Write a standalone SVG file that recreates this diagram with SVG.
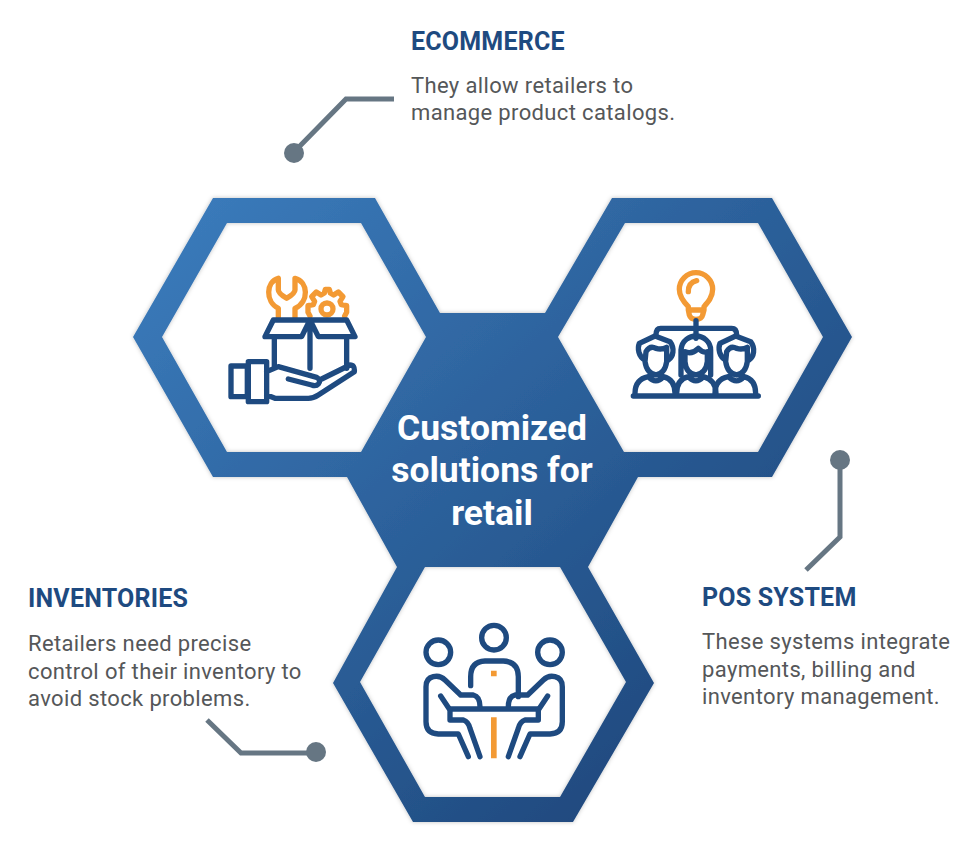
<svg xmlns="http://www.w3.org/2000/svg" width="966" height="854" viewBox="0 0 966 854">
<style>
text{font-family:Roboto,"Liberation Sans",sans-serif}
.h{font-size:25px;font-weight:700;fill:#1e4a80;letter-spacing:.2px}
.b{font-size:22px;fill:#555759;letter-spacing:.36px}
.c{font-size:35.5px;font-weight:700;fill:#fff;text-anchor:middle}
.n,.o{fill:none;stroke-width:16;stroke-linecap:round;stroke-linejoin:round}
.n{stroke:#1e4a80}.o{stroke:#f39a34}
.l{fill:none;stroke:#667683;stroke-width:5}
.d{fill:#667683}
</style>
<defs>
<linearGradient id="g" gradientUnits="userSpaceOnUse" x1="190" y1="210" x2="720" y2="800">
<stop offset="0" stop-color="#3a7aba"/><stop offset="1" stop-color="#1d4579"/>
</linearGradient>
<filter id="s" x="-5%" y="-5%" width="110%" height="110%"><feDropShadow dx="0" dy="0" stdDeviation="2" flood-color="#000" flood-opacity=".25"/></filter>
</defs>
<rect width="966" height="854" fill="#fff"/>
<g id="hexagons">
<path filter="url(#s)" fill="url(#g)" fill-rule="evenodd" d="M213,198H375L440,313H545L612,198H772L852,337L772,477H638L588,567L654,683L573,822H413L333,683L397,567L347,477H213L133,337Z M227,223L162,337L227,452H361L426,337L361,223Z M625,223L558,337L624,452H758L823,337L758,223Z M425,567L360,682L425,797H560L626,682L560,567Z"/>
</g>
<g id="connectors">
<path class="l" d="M394,99H346L294,152"/><circle class="d" cx="294" cy="153" r="10"/>
<path class="l" d="M840,460V537L806,570"/><circle class="d" cx="840" cy="460" r="10"/>
<path class="l" d="M207,720L241,753H316"/><circle class="d" cx="316" cy="752" r="10"/>
</g>
<g id="center"><text class="c" x="492" y="440">Customized</text><text class="c" x="492" y="482">solutions for</text><text class="c" x="492" y="525">retail</text></g>
<g id="ecommerce"><text class="h" x="411" y="50">ECOMMERCE</text><text class="b" x="411" y="93">They allow retailers to</text><text class="b" x="411" y="120">manage product catalogs.</text></g>
<g id="pos"><text class="h" x="702" y="606">POS SYSTEM</text><text class="b" x="702" y="649">These systems integrate</text><text class="b" x="702" y="677">payments, billing and</text><text class="b" x="702" y="704">inventory management.</text></g>
<g id="inventories"><text class="h" x="28" y="607">INVENTORIES</text><text class="b" x="28" y="651">Retailers need precise</text><text class="b" x="28" y="679">control of their inventory to</text><text class="b" x="28" y="706">avoid stock problems.</text></g>
<g id="icon-box" transform="translate(210,260) scale(.3333)">
<path class="o" d="M205,55C168,65 165,125 205,145V172M205,55V90Q205,100 230,115Q255,100 255,90V55C295,65 298,125 255,145V172"/>
<path class="o" d="M300,168L294,157V137L310,134L314,124L305,110L319,96L333,105L343,99L346,88H358L361,99L371,105L385,96L399,110L390,124L394,134L410,137V157L404,168"/><circle class="o" cx="351" cy="147" r="18"/>
<path class="n" d="M190,180H410L435,230H325L300,180L275,230H165ZM300,180V325M193,230V318M410,230V325"/>
<path class="n" d="M63,318H112V410H63ZM115,305H170V425H115ZM170,335L205,320L320,352Q335,360 325,372Q318,380 305,375L235,357M335,357L420,315Q435,315 433,335L325,405Q310,415 295,415H195L170,405"/>
</g>
<g id="icon-team" transform="translate(620,260) scale(.3333)">
<path class="o" d="M205,150V140C190,125 178,110 178,88A50,50 0 1 1 278,88C278,110 265,125 252,140V150L248,165Q245,178 228,178Q212,178 208,165L205,150H252M205,95Q205,68 230,62"/>
<path class="n" d="M228,182V235M108,225Q108,205 122,205H335Q350,205 350,225M40,408H415"/>
<path class="n" d="M75,300C55,290 52,265 58,250L105,228L150,245C165,265 160,290 145,300M78,275Q90,255 108,265Q125,270 140,262V305Q135,340 108,345Q80,340 75,305ZM45,400C45,370 60,355 85,350Q108,375 130,350C150,355 165,370 165,400"/>
<path class="n" d="M285,400C285,370 300,355 325,350Q350,375 372,350C392,355 407,370 407,400M317,300C297,290 294,265 300,250L347,228L392,245C407,265 402,290 387,300M320,275Q332,255 350,265Q367,270 382,262V305Q377,340 350,345Q322,340 317,305Z"/>
<path class="n" d="M183,345V270C185,240 210,228 228,228C250,228 272,245 272,270V345M195,275Q215,285 235,265Q250,280 262,275V305Q258,340 228,345Q198,340 195,305ZM170,400C170,370 185,355 205,350Q228,375 250,350C270,355 288,370 288,400"/>
</g>
<g id="icon-meeting" transform="translate(410,615) scale(.3333)">
<path d="M243,167H260V184H243ZM243,307H260V430H243Z" fill="#f39a34"/>
<circle class="n" cx="252" cy="68" r="37"/><circle class="n" cx="85" cy="112" r="37"/><circle class="n" cx="420" cy="112" r="37"/>
<path class="n" d="M182,212V185Q182,140 225,138H280Q325,140 325,185V245M120,282H385"/>
<path class="n" d="M152,240L105,195Q90,180 70,185Q48,190 48,215V320Q48,355 85,357H145L175,425M152,240H190Q210,245 210,275M92,243L120,285V315H160Q175,320 180,340L210,425"/>
<path class="n" d="M353,240L400,195Q415,180 435,185Q457,190 457,215V320Q457,355 420,357H360L330,425M353,240H315Q295,245 295,275M413,243L385,285V315H345Q330,320 325,340L295,425"/>
</g>
</svg>
